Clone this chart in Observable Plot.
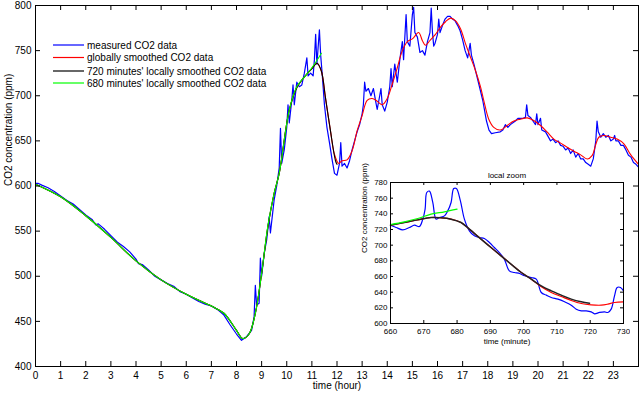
<!DOCTYPE html>
<html><head><meta charset="utf-8">
<script src="https://cdn.jsdelivr.net/npm/d3@7"></script>
<script src="https://cdn.jsdelivr.net/npm/@observablehq/plot@0.6"></script>
<style>
body{margin:0;background:#fff}
#wrap{position:relative;width:640px;height:393px;font-family:"Liberation Sans",Arial,sans-serif}
#wrap > *{position:absolute}
</style>
</head><body><div id="wrap"></div>
<script>
// ---- data (hour, ppm) ----
const measured = [[0,603],[0.1,603],[0.25,601],[0.5,598],[0.75,594],[1,589],[1.25,584],[1.5,580],[1.75,574],[2,568],[2.25,563],[2.4,557],[2.5,558],[2.75,552],[3,545],[3.25,538],[3.5,533],[3.75,527],[4,519],[4.1,514],[4.25,513],[4.5,507],[4.75,500],[5,496],[5.25,492],[5.5,489],[5.75,483],[6,480],[6.25,476],[6.5,472],[6.75,469],[7,467],[7.25,463],[7.5,457],[7.75,446],[8,436],[8.2,429],[8.4,433],[8.6,440],[8.7,455],[8.75,490],[8.8,468],[8.9,470],[8.95,520],[9,500],[9.1,525],[9.2,540],[9.3,566],[9.35,548],[9.5,585],[9.6,600],[9.7,620],[9.75,664],[9.8,625],[9.9,640],[10,665],[10.05,690],[10.1,670],[10.2,695],[10.25,712],[10.3,690],[10.4,715],[10.5,710],[10.6,712],[10.7,725],[10.8,742],[10.85,722],[10.95,725],[11.05,722],[11.1,740],[11.15,768],[11.2,735],[11.3,773],[11.35,745],[11.4,728],[11.5,690],[11.6,665],[11.7,648],[11.8,630],[11.9,614],[12,612],[12.1,625],[12.15,648],[12.2,622],[12.3,625],[12.4,620],[12.5,628],[12.6,640],[12.8,660],[12.9,668],[13,680],[13.05,690],[13.1,715],[13.15,705],[13.25,708],[13.35,700],[13.45,708],[13.55,692],[13.6,685],[13.7,700],[13.75,708],[13.8,690],[13.9,683],[14,693],[14.1,710],[14.15,730],[14.2,710],[14.3,735],[14.4,715],[14.5,740],[14.6,760],[14.65,740],[14.75,790],[14.8,760],[14.9,755],[15,790],[15.05,798],[15.1,770],[15.2,765],[15.3,748],[15.4,750],[15.5,745],[15.6,760],[15.7,770],[15.75,797],[15.8,770],[15.85,755],[15.9,758],[16,768],[16.05,785],[16.1,770],[16.2,778],[16.3,785],[16.4,788],[16.5,788],[16.6,785],[16.7,783],[16.8,778],[16.9,772],[17,762],[17.1,750],[17.2,742],[17.3,758],[17.35,745],[17.45,735],[17.6,718],[17.8,695],[17.95,672],[18.05,662],[18.15,658],[18.3,659],[18.5,660],[18.6,662],[18.7,668],[18.8,665],[18.9,668],[19,670],[19.1,672],[19.2,675],[19.4,675],[19.5,676],[19.55,690],[19.6,678],[19.7,676],[19.8,672],[19.9,668],[19.95,680],[20,668],[20.1,675],[20.15,662],[20.3,660],[20.4,655],[20.5,650],[20.6,652],[20.7,648],[20.8,650],[20.9,645],[21,644],[21.1,640],[21.2,642],[21.3,636],[21.4,640],[21.5,632],[21.6,636],[21.7,630],[21.8,630],[21.9,626],[22,624],[22.1,622],[22.2,630],[22.3,650],[22.35,672],[22.4,660],[22.5,654],[22.6,658],[22.7,654],[22.8,656],[22.9,650],[23,652],[23.05,656],[23.1,650],[23.2,650],[23.3,645],[23.4,645],[23.5,640],[23.6,634],[23.7,632],[23.8,626],[23.9,624],[24,621]];
const globalSmooth = [[0,602],[1,588],[2,567],[3,543],[4,517],[5,496],[6,480],[7,467],[7.5,459],[8,440],[8.25,431],[8.5,436],[8.75,459],[9,503],[9.25,555],[9.5,592],[9.7,614],[10.1,684],[10.4,709],[10.8,724],[11,730],[11.2,736],[11.37,728],[11.54,698],[11.74,661],[11.9,635],[12.07,625],[12.2,628],[12.4,629],[12.6,639],[12.8,661],[13,678],[13.2,695],[13.4,697],[13.6,694],[13.8,690],[14,697],[14.2,713],[14.4,731],[14.6,750],[14.8,760],[15,763],[15.25,770],[15.4,761],[15.52,756],[15.72,762],[15.92,768],[16.12,776],[16.32,782],[16.52,786],[16.72,783],[16.92,774],[17.11,758],[17.31,743],[17.51,728],[17.71,710],[17.84,695],[18.04,674],[18.24,665],[18.5,662],[18.77,667],[19.04,672],[19.3,674],[19.57,675.5],[19.83,672.6],[20.1,667],[20.37,659.6],[20.63,652],[20.9,647.5],[21.16,643],[21.43,638.6],[21.7,634.5],[21.96,630],[22.16,634],[22.29,645],[22.42,654],[22.62,656],[22.89,654],[23.15,652],[23.42,646.7],[23.68,635],[24,624]];
const local720 = [[0,602],[1,588],[2,567],[3,543],[4,517],[5,496],[6,480],[7,467],[7.5,459],[8,440],[8.25,431],[8.5,436],[8.75,459],[9,503],[9.25,555],[9.5,592],[9.7,614],[10.1,684],[10.4,709],[10.8,724],[11,730],[11.2,736],[11.37,728],[11.54,698],[11.74,661],[11.94,628],[12,624]];
const local680 = [[0,602],[1,588],[2,567],[3,543],[4,517],[5,496],[6,480],[7,467],[7.5,459],[8,440],[8.25,431],[8.5,436],[8.75,459],[9,503],[9.25,556],[9.5,592],[9.7,614],[10.1,684],[10.4,710],[10.8,724],[11,731],[11.2,739],[11.38,747]];
// inset (minute, ppm)
const zoomMeasured = [[660,725.5],[661.7,722.6],[663.7,719.6],[665.7,722.6],[667.2,725.5],[668.7,723.8],[669.7,733.2],[670.4,746],[670.9,767.2],[671.7,769],[672.7,754.5],[673.7,733.2],[674.7,735.3],[676.2,737.4],[677.2,743.8],[678.2,754.5],[679,772.3],[679.8,772.3],[681,756.6],[682.2,733.2],[683.7,718.3],[685.2,711.9],[686.7,709.8],[688.2,708.5],[689.7,703.4],[691.2,697],[692.7,690.6],[694.2,682.1],[695.7,667.2],[697.2,665.1],[698.8,663.8],[700.3,660.9],[702.3,658.7],[703.8,656.6],[705.3,639.6],[706.8,636.2],[708.3,633.2],[710.3,631.1],[712.3,627.7],[714.3,623.4],[715.8,618.3],[717.3,616.2],[718.8,616.2],[720.3,614.9],[721.3,612.4],[722.8,614.1],[724.3,614.9],[725.3,614.1],[726.3,618.3],[727.3,635.3],[728.1,646],[729.1,646],[730,641.7]];
const zoomGlobal = [[660,725.5],[664.2,728.9],[668.2,732.3],[672.2,735.3],[675.2,734.9],[678.2,733.2],[681.2,728.9],[683.7,720.4],[687.2,707.7],[690.2,697],[693.2,686.4],[696.2,675.8],[699.3,665.1],[702.3,656.6],[705.3,646.8],[708.3,639.6],[711.3,634.5],[714.3,629.4],[717.3,625.5],[720.3,623.8],[723.3,623.4],[725.3,624.7],[727.3,626.8],[730,627.7]];
const zoomLocal720 = [[660,725.5],[664.2,728.9],[668.2,732.3],[672.2,735.3],[675.2,734.9],[678.2,733.2],[681.2,728.9],[683.7,720.4],[687.2,707.7],[690.2,697],[693.2,686.4],[696.2,675.8],[699.3,665.1],[702.3,656.6],[705.3,648],[708.3,641.7],[711.3,636.2],[714.3,631.1],[717.3,627.7],[719.8,626]];
const zoomLocal680 = [[660,726.4],[664.2,729.8],[668.2,734],[672.2,739.6],[676.2,742.6],[680,746]];
// ticks & labels
const hourTicks = [0,1,2,3,4,5,6,7,8,9,10,11,12,13,14,15,16,17,18,19,20,21,22,23];
const hourTickMarks = [0,1,2,3,4,5,6,7,8,9,10,11,12,13,14,15,16,17,18,19,20,21,22,23,24];
const ppmTicks = [400,450,500,550,600,650,700,750,800];
const minuteTicks = [660,670,680,690,700,710,720,730];
const zoomPpmTicks = [600,620,640,660,680,700,720,740,760,780];
const seriesNames = ["measured CO2 data","globally smoothed CO2 data","720 minutes' locally smoothed CO2 data","680 minutes' locally smoothed CO2 data"];
const seriesColors = ["#0000ff","#ff0000","#000000","#00ff00"];
const xLabel = "time (hour)", yLabel = "CO2 concentration (ppm)";
const zoomTitle = "local zoom", zoomXLabel = "time (minute)";

const FONT = '"Liberation Sans", Arial, sans-serif';
const wrap = document.getElementById("wrap");
const X = d => d[0], Y = d => d[1];

// main chart
const W = 640, H = 393, mL = 35, mR = 2, mT = 5, mB = 27;
const iW = W - mL - mR, iH = H - mT - mB;
const main = Plot.plot({
  width: W, height: H, marginLeft: mL, marginRight: mR, marginTop: mT, marginBottom: mB,
  style: {fontFamily: FONT, fontSize: "10px", background: "white", color: "black"},
  x: {domain: [0, 24], label: null},
  y: {domain: [400, 800], label: null},
  marks: [
    Plot.line(measured, {x: X, y: Y, stroke: seriesColors[0], strokeWidth: 1.2}),
    Plot.line(globalSmooth, {x: X, y: Y, stroke: seriesColors[1], strokeWidth: 1.1, curve: "catmull-rom"}),
    Plot.line(local720, {x: X, y: Y, stroke: seriesColors[2], strokeWidth: 1.1, curve: "catmull-rom"}),
    Plot.line(local680, {x: X, y: Y, stroke: seriesColors[3], strokeWidth: 1.1, curve: "catmull-rom"}),
    Plot.ruleX(hourTickMarks, {x: d => d, insetTop: iH - 5, stroke: "black"}),
    Plot.ruleX(hourTickMarks, {x: d => d, insetBottom: iH - 5, stroke: "black"}),
    Plot.ruleY(ppmTicks, {y: d => d, insetRight: iW - 5, stroke: "black"}),
    Plot.ruleY(ppmTicks, {y: d => d, insetLeft: iW - 5, stroke: "black"}),
    Plot.frame({stroke: "black"}),
    Plot.axisX({ticks: hourTicks, tickSize: 0, tickPadding: 5, label: null, fontSize: 10}),
    Plot.axisY({ticks: ppmTicks, tickSize: 0, tickPadding: 4, label: null, fontSize: 10}),
    Plot.text([xLabel], {text: d => d, frameAnchor: "bottom", dy: 22, fontSize: 10}),
    Plot.text([yLabel], {text: d => d, frameAnchor: "left", rotate: -90, dx: -27, fontSize: 10})
  ]
});
main.style.left = "0px"; main.style.top = "0px";
wrap.appendChild(main);

// legend
const leg = d3.create("svg").attr("width", 300).attr("height", 100)
  .style("left", "0px").style("top", "0px").style("font-family", FONT).style("font-size", "10px");
const rowsY = [45, 57.5, 71, 83];
seriesNames.forEach((n, i) => {
  leg.append("line").attr("x1", 53).attr("x2", 84).attr("y1", rowsY[i]).attr("y2", rowsY[i])
    .attr("stroke", seriesColors[i]).attr("stroke-width", 1.2);
  leg.append("text").attr("x", 87).attr("y", rowsY[i]).attr("dy", "0.35em").text(n);
});
wrap.appendChild(leg.node());

// inset
const zW = 290, zH = 195, zL = 50, zR = 7, zT = 22, zB = 32;
const ziW = zW - zL - zR, ziH = zH - zT - zB;
const inset = Plot.plot({
  width: zW, height: zH, marginLeft: zL, marginRight: zR, marginTop: zT, marginBottom: zB,
  style: {fontFamily: FONT, fontSize: "8px", background: "transparent", color: "black"},
  x: {domain: [660, 730], label: null},
  y: {domain: [600, 780], label: null},
  marks: [
    Plot.frame({fill: "white"}),
    Plot.line(zoomMeasured, {x: X, y: Y, stroke: seriesColors[0], strokeWidth: 1.2, curve: "catmull-rom"}),
    Plot.line(zoomGlobal, {x: X, y: Y, stroke: seriesColors[1], strokeWidth: 1.2, curve: "catmull-rom"}),
    Plot.line(zoomLocal720, {x: X, y: Y, stroke: "#222", strokeWidth: 1.5, curve: "catmull-rom"}),
    Plot.line(zoomLocal680, {x: X, y: Y, stroke: seriesColors[3], strokeWidth: 1.2, curve: "catmull-rom"}),
    Plot.ruleX(minuteTicks, {x: d => d, insetTop: ziH - 3, stroke: "black"}),
    Plot.ruleX(minuteTicks, {x: d => d, insetBottom: ziH - 3, stroke: "black"}),
    Plot.ruleY(zoomPpmTicks, {y: d => d, insetRight: ziW - 3, stroke: "black"}),
    Plot.ruleY(zoomPpmTicks, {y: d => d, insetLeft: ziW - 3, stroke: "black"}),
    Plot.frame({stroke: "black"}),
    Plot.axisX({ticks: minuteTicks, tickSize: 0, tickPadding: 5, label: null, fontSize: 8}),
    Plot.axisY({ticks: zoomPpmTicks, tickSize: 0, tickPadding: 3, label: null, fontSize: 8}),
    Plot.text([zoomTitle], {text: d => d, frameAnchor: "top", dy: -10, fontSize: 8}),
    Plot.text([zoomXLabel], {text: d => d, frameAnchor: "bottom", dy: 20, fontSize: 8}),
    Plot.text([yLabel], {text: d => d, frameAnchor: "left", rotate: -90, dx: -26, fontSize: 8})
  ]
});
inset.style.left = "340px"; inset.style.top = "160px";
wrap.appendChild(inset);
</script>
</body></html>
